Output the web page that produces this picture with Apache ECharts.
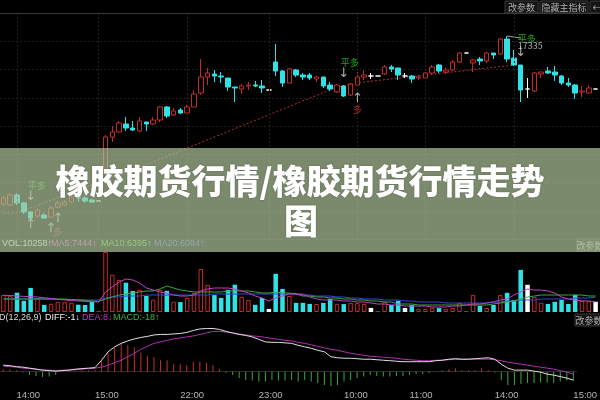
<!DOCTYPE html>
<html><head><meta charset="utf-8">
<script src="https://cdn.jsdelivr.net/npm/echarts@6/dist/echarts.min.js"></script>
<style>html,body{margin:0;padding:0;background:#000;}#c{width:600px;height:400px;}</style>
</head><body><div id="c"></div>
<script>
// ---- data ----
const categories = ['13:50','13:55','14:00','14:05','14:10','14:15','14:20','14:25','14:30','14:35','14:40','14:45','14:50','14:55','15:00',
'21:00','21:05','21:10','21:15','21:20','21:25','21:30','21:35','21:40','21:45','21:50','21:55','22:00',
'22:05','22:10','22:15','22:20','22:25','22:30','22:35','22:40','22:45','22:50','22:55','23:00',
'09:00','09:05','09:10','09:15','09:20','09:25','09:30','09:35','09:40','09:45','09:50','09:55','10:00',
'10:05','10:10','10:15','10:30','10:35','10:40','10:45','10:50','10:55','11:00',
'11:05','11:10','11:15','11:20','11:25','11:30','13:30','13:35','13:40','13:45','13:50','13:55','14:00',
'14:05','14:10','14:15','14:20','14:25','14:30','14:35','14:40','14:45','14:50','14:55','15:00'];
const tickIndex = [2,14,27,39,52,62,75,87];
// [open, close, low, high]
const ohlc = [
[17167,17173,17165,17175],[17166,17176,17165,17178],[17176,17168,17166,17178],[17168,17159,17157,17169],
[17159,17153,17151,17160],[17155,17161,17153,17163],[17156,17153,17152,17158],[17154,17163,17153,17165],
[17164,17168,17163,17170],[17166,17169,17165,17171],[17169,17174,17168,17176],[17174,17173,17169,17176],
[17173,17170,17168,17175],[17171,17169,17168,17172],[17170,17170,17170,17170],[17199,17234,17196,17236],
[17234,17239,17229,17245],[17239,17248,17238,17250],[17247,17243,17240,17254],[17243,17241,17240,17250],
[17240,17250,17239,17254],[17249,17247,17240,17249],[17247,17251,17246,17254],[17251,17264,17249,17265],
[17264,17255,17253,17265],[17256,17260,17255,17263],[17261,17258,17257,17263],[17258,17264,17258,17266],
[17264,17277,17264,17281],[17278,17294,17276,17312],[17294,17298,17286,17303],[17297,17295,17289,17301],
[17295,17294,17288,17299],[17293,17284,17280,17293],[17284,17283,17269,17284],[17282,17285,17277,17287],
[17285,17286,17281,17289],[17286,17285,17284,17290],[17285,17283,17278,17291],[17281,17281,17281,17281],
[17309,17300,17295,17327],[17300,17288,17284,17301],[17288,17302,17288,17303],[17301,17296,17294,17302],
[17296,17294,17291,17298],[17296,17293,17291,17298],[17292,17294,17289,17295],[17294,17285,17283,17294],
[17286,17282,17280,17289],[17279,17286,17278,17287],[17285,17275,17274,17286],[17276,17287,17275,17288],
[17286,17294,17284,17299],[17294,17296,17291,17301],[17295,17295,17292,17298],[17295,17295,17295,17295],
[17297,17304,17296,17306],[17304,17302,17299,17306],[17303,17296,17291,17303],[17295,17295,17293,17298],
[17295,17292,17288,17296],[17293,17294,17291,17296],[17293,17298,17292,17299],[17298,17304,17296,17306],
[17306,17300,17298,17307],[17299,17301,17297,17303],[17301,17309,17300,17311],[17309,17318,17308,17319],
[17318,17318,17318,17318],[17308,17311,17299,17312],[17312,17310,17306,17314],[17310,17318,17308,17319],
[17318,17316,17312,17318],[17317,17332,17316,17333],[17332,17312,17309,17335],[17313,17306,17305,17321],
[17306,17281,17269,17306],[17282,17282,17273,17293],[17280,17298,17279,17299],[17297,17299,17293,17299],
[17300,17298,17297,17304],[17299,17296,17290,17305],[17295,17288,17286,17296],[17288,17286,17284,17293],
[17286,17278,17272,17287],[17279,17280,17274,17285],[17278,17283,17278,17286],[17282,17282,17282,17282]];
const volume = [17100,16200,19300,11200,24100,14000,7100,8200,10100,9800,9200,7300,7000,10200,320,
60000,37200,32100,29300,21000,22200,16100,12300,22100,21200,10300,9900,14200,19100,43000,27100,16900,14100,22200,27300,15100,12100,7200,14000,3100,38200,23100,16000,9100,
9200,8100,8000,9100,13100,8200,7900,9100,8900,8100,4100,320,10100,7000,11200,4000,7100,3100,2900,4100,3900,3100,4000,9000,320,
17100,6100,4000,7000,16900,19200,12100,42100,27200,15100,9200,8100,10200,12100,8000,17100,11200,10900,10258];
const volMA5 = [16700,16500,16000,15600,15300,15000,14300,13500,12700,12000,11500,11000,10700,10300,10000,
20000,25000,30000,33000,32000,29000,24000,22000,20000,19000,17000,16000,16000,17000,21000,23000,24000,24000,24000,23000,21000,19000,16000,14000,11000,14000,16000,18000,18000,
18000,15000,13000,12000,12000,12000,11000,11000,10000,10000,9000,8000,8000,7000,7000,6000,6000,6000,6000,5000,
5000,5000,6000,6000,7000,8000,8000,9000,10000,12000,13000,17000,20000,23000,22000,22000,21000,19000,15000,13000,12000,11000,11000,10000];
const volMA10 = [13000,13000,13000,13000,13000,13000,13000,13000,13000,13000,12500,12000,11500,11000,10500,
13000,15000,17000,18000,19000,20000,21000,21000,23000,26000,24000,22000,21000,20000,20000,20000,20000,20000,21000,21000,21000,21000,20000,19000,19000,20000,19000,19000,18000,
16000,16000,15000,15000,14000,14000,13000,13000,12000,12000,11000,11000,10000,10000,8000,8000,8000,7000,7000,7000,
7000,7000,7000,7000,7000,7000,7000,7000,8000,9000,10000,11000,13000,15000,16000,17000,17000,17000,17000,17000,17000,17000,16000,16000];
const volMA20 = [13000,13000,13000,13000,13000,13000,13000,13000,12500,12500,12500,12500,12000,12000,12000,
14000,15000,15000,16000,16000,16000,17000,17000,17000,17000,17000,17000,17000,17000,17000,17000,18000,18000,18000,18000,18000,18000,18000,18000,18000,18000,18000,18000,18000,
17000,17000,16000,16000,16000,15000,15000,14000,14000,13000,13000,13000,12000,12000,12000,11000,11000,10000,10000,10000,
10000,9000,9000,9000,9000,9000,9000,9000,10000,10000,11000,11000,12000,12000,12000,13000,13000,13000,13000,13000,14000,14000,14000,15000];
const diff = [13,12,10,9,7,5,3,2,1,2,3,5,6,7,8,
23,40,50,57,62,66,69,71,74,75,75,76,77,79,83,86,87,87,85,81,78,75,73,70,65,60,59,59,58,
57,53,50,47,43,40,30,28,27,27,26,25,25,24,23,22,21,20,20,20,20,20,22,23,25,26,25,25,26,27,28,25,15,7,3,3,3,1,-1,-5,-7,-10,-13,-17];
const dea = [11,10,9,7,6,5,3,3,2,3,3,4,5,6,7,
9,13,18,23,30,37,45,51,57,60,63,66,68,70,72,75,78,81,81,80,78,76,74,72,71,69,67,65,63,
62,59,57,54,51,48,45,43,40,37,35,33,31,30,29,28,27,25,24,23,22,22,23,23,24,25,25,25,25,25,25,24,22,19,17,15,13,11,9,7,5,2,-1,-5];
const macd = [5,5,3,-2,-7,-9,-11,-10,-7,2,3,3,3,3,3,
23,38,48,57,53,49,38,32,29,23,23,15,15,13,20,20,18,13,5,-3,-7,-13,-17,-18,-20,-20,-17,-18,-18,
-17,-20,-17,-20,-23,-27,-29,-27,-20,-17,-13,-10,-7,-9,-10,-10,-9,-9,-7,-5,-5,-3,-1,3,5,7,3,3,3,7,3,-2,-17,-27,-27,-25,-23,-23,-22,-22,-23,-20,-18,-18];
const stopLine = [[0,17158],[2,17158],[22,17209],[49,17284],[53,17289],[75,17306]];
const signalIndex = [4,4,4,7,8,8,50,50,52,52,76,76,76];
const signalPrice = [17185,17174,17146,17142,17152,17139,17308,17297,17272,17261,17332,17325,17318];
const signalText = ['平多','↓','↑','↑','↑','多','平多','↓','↑','多','平多','17335','↓'];
const peakLeader = [[74,17335],[75.6,17333]];
const volHeader = ['VOL:10258↑','MA5:7444↑','MA10:6395↑','MA20:6084↑'];
const macdHeader = ['MACD(12,26,9)','DIFF:-1↓','DEA:8↓','MACD:-18↑'];
const title1 = '橡胶期货行情/橡胶期货行情走势';
const title2 = '图';

// ---- styling ----
const RED = '#c42c2a', CYAN = '#2fe2e6', WHITE = '#ffffff';
const candleData = ohlc.map(d => d[0] === d[1]
  ? {value: d, itemStyle: {color: WHITE, color0: WHITE, borderColor: WHITE, borderColor0: WHITE}} : d);
const volData = volume.map((v, i) => {
  const d = ohlc[i];
  const st = d[0] === d[1] ? {color: WHITE} : d[1] > d[0] ? {color: '#000', borderColor: RED, borderWidth: 1} : {color: CYAN};
  return {value: v, itemStyle: st};
});
const macdData = macd.map(v => ({value: v, itemStyle: {color: v >= 0 ? '#c8302c' : '#3aa83a'}}));
const signalData = signalText.map((t, k) => {
  const arrow = (t === '↓' || t === '↑');
  const left = (t === '平多' || /^\d+$/.test(t));
  const color = t === '平多' ? '#2ecb2e' : t === '多' ? '#d83232' : '#d6d6d6';
  return {value: [signalIndex[k], signalPrice[k]], label: {show: true, position: 'inside', formatter: t, color: color,
    fontSize: arrow ? 13 : 9, align: left ? 'left' : 'center', verticalAlign: 'middle', offset: [left ? -3 : 0, 0],
    fontFamily: arrow ? 'DejaVu Sans' : '"Noto Sans CJK SC", sans-serif'}};
});

const chart = echarts.init(document.getElementById('c'), null, {renderer: 'canvas', width: 600, height: 400});
const xBase = {type: 'category', data: categories, boundaryGap: true, axisTick: {show: false}, axisLine: {show: false}, axisLabel: {show: false}, splitLine: {show: false}};
const lineSty = (c) => ({type: 'line', showSymbol: false, symbol: 'none', lineStyle: {color: c, width: 1}, silent: true});
const FONT = '9px "Liberation Sans", "DejaVu Sans", sans-serif';
const hdr = (x, y, text, fill) => ({type: 'text', x: x, y: y, style: {text: text, fill: fill, font: FONT, verticalAlign: 'middle'}, z: 50});
const btn = (x, y, w, label) => ([
  {type: 'rect', shape: {x: x, y: y, width: w, height: 12}, style: {fill: '#141414', stroke: '#3a3a3a', lineWidth: 1}, z: 50},
  {type: 'text', x: x + w / 2, y: y + 6.5, style: {text: label, fill: '#b0b0b0', font: '9px "Noto Sans CJK SC"', align: 'center', verticalAlign: 'middle'}, z: 51}
]);

chart.setOption({
  animation: false,
  backgroundColor: '#000',
  grid: [
    {left: -2, right: 1, top: 13, height: 226},
    {left: -2, right: 1, top: 252, height: 60},
    {left: -2, right: 1, top: 326, height: 61.5}
  ],
  xAxis: [
    Object.assign({}, xBase, {gridIndex: 0}),
    Object.assign({}, xBase, {gridIndex: 1}),
    Object.assign({}, xBase, {gridIndex: 2,
      axisLine: {show: true, lineStyle: {color: '#2c2c2c'}},
      axisLabel: {show: true, interval: (i) => tickIndex.indexOf(i) >= 0, color: '#b4b4b4', fontSize: 9.5,
        fontFamily: 'Liberation Sans, sans-serif', align: 'left', margin: 3}})
  ],
  yAxis: [
    {gridIndex: 0, min: 17132, max: 17358, show: false},
    {gridIndex: 0, min: 0, max: 8, interval: 1, axisLabel: {show: false}, axisLine: {show: false}, axisTick: {show: false},
      splitLine: {show: true, lineStyle: {color: '#202020', type: [2, 2]}}},
    {gridIndex: 1, min: 0, max: 60000, show: false},
    {gridIndex: 2, min: -31, max: 92, show: false}
  ],
  series: [
    {type: 'candlestick', xAxisIndex: 0, yAxisIndex: 0, data: candleData, barWidth: 5,
      itemStyle: {color: '#000', color0: CYAN, borderColor: RED, borderColor0: CYAN, borderWidth: 1},
      markLine: {silent: true, symbol: ['none', 'none'], label: {show: false}, animation: false,
        lineStyle: {color: '#222', type: [2, 2], width: 1},
        data: tickIndex.slice(0, 7).map(i => ({xAxis: i}))}},
    Object.assign(lineSty(RED), {xAxisIndex: 0, yAxisIndex: 0, data: stopLine, lineStyle: {color: '#b83030', width: 1, type: [2, 2]}, z: 1}),
    Object.assign(lineSty('#a0a0a0'), {xAxisIndex: 0, yAxisIndex: 0, data: peakLeader}),
    {type: 'scatter', xAxisIndex: 0, yAxisIndex: 0, data: signalData, symbolSize: 1, itemStyle: {color: 'rgba(0,0,0,0)'}, silent: true, z: 5},
    {type: 'bar', xAxisIndex: 1, yAxisIndex: 2, data: volData, barWidth: 4.5},
    Object.assign(lineSty('#3048e0'), {xAxisIndex: 1, yAxisIndex: 2, data: volMA20}),
    Object.assign(lineSty('#3ca83c'), {xAxisIndex: 1, yAxisIndex: 2, data: volMA10}),
    Object.assign(lineSty('#c040c8'), {xAxisIndex: 1, yAxisIndex: 2, data: volMA5}),
    {type: 'bar', xAxisIndex: 2, yAxisIndex: 3, data: macdData, barWidth: 1},
    Object.assign(lineSty('#b030b0'), {xAxisIndex: 2, yAxisIndex: 3, data: dea}),
    Object.assign(lineSty('#e0e0e0'), {xAxisIndex: 2, yAxisIndex: 3, data: diff})
  ],
  graphic: [
    {type: 'line', shape: {x1: 0, y1: 13.5, x2: 600, y2: 13.5}, style: {stroke: '#3a3a3a', lineWidth: 1}, z: 40},
    ...btn(505, 1, 33, '改参数'), ...btn(540, 1, 48, '隐藏主指标'), ...btn(590, 1, 14, '←'),
    // volume header (under the band)
    hdr(2, 244, volHeader[0], '#e6e6e6'), hdr(51, 244, volHeader[1], '#d050d8'),
    hdr(101, 244, volHeader[2], '#4cd04c'), hdr(154, 244, volHeader[3], '#5060e8'),
    ...btn(577, 239, 26, '改参数'),
    // MACD header
    hdr(-21, 318, macdHeader[0], '#d8d8d8'), hdr(45, 318, macdHeader[1], '#f0f0f0'),
    hdr(82, 318, macdHeader[2], '#c838c8'), hdr(113, 318, macdHeader[3], '#38b838'),
    ...btn(575, 314, 28, '改参数'),
    // overlay band + title
    {type: 'rect', shape: {x: 0, y: 148, width: 600, height: 104}, style: {fill: 'rgba(178,200,156,0.69)'}, z: 100},
    {type: 'text', x: 300, y: 181, style: {text: title1, fill: '#fff', font: '900 34px "Noto Sans CJK SC"', align: 'center', verticalAlign: 'middle',
      textShadowColor: 'rgba(0,0,0,0.25)', textShadowBlur: 2}, z: 101},
    {type: 'text', x: 301, y: 221, style: {text: title2, fill: '#fff', font: '900 34px "Noto Sans CJK SC"', align: 'center', verticalAlign: 'middle',
      textShadowColor: 'rgba(0,0,0,0.25)', textShadowBlur: 2}, z: 101}
  ]
});
</script>
</body></html>
